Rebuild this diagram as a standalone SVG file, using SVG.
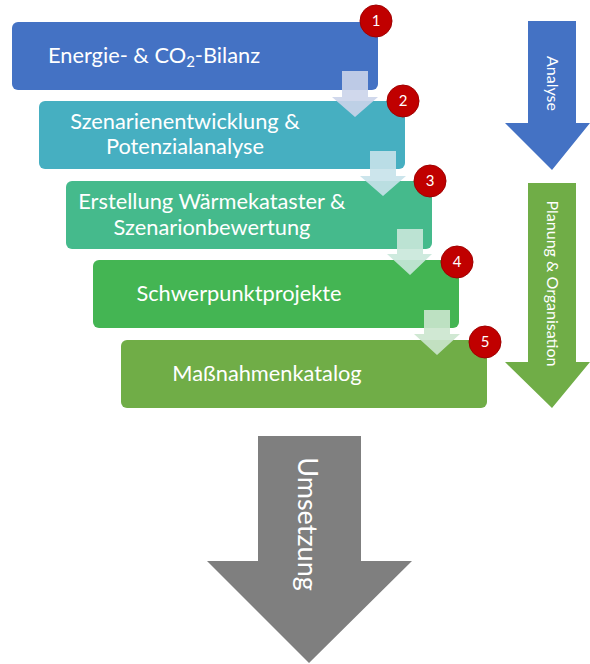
<svg xmlns="http://www.w3.org/2000/svg" width="590" height="664" viewBox="0 0 590 664">
<style>
.box{stroke:none}
.lbl{font-family:Lato,"Carlito","Liberation Sans",sans-serif;font-size:21.8px;fill:#ffffff;text-anchor:middle}
.side{font-family:Lato,"Carlito","Liberation Sans",sans-serif;font-size:16px;fill:#ffffff;text-anchor:middle}
.badge{fill:#C00000;stroke:#A00000;stroke-width:1}
.num{font-family:Lato,"Carlito","Liberation Sans",sans-serif;font-size:15px;fill:#ffffff;text-anchor:middle}
.step{opacity:0.9}
</style>
<rect width="590" height="664" fill="#ffffff"/>
<g id="box1"><rect class="box" x="12" y="22" width="366" height="68" rx="6" fill="#4472C4"/>
<text class="lbl" x="154" y="63">Energie- &amp; CO<tspan font-size="15" dy="4">2</tspan><tspan dy="-4">-Bilanz</tspan></text></g>
<g id="box2"><rect class="box" x="39" y="101" width="366" height="68" rx="6" fill="#46AFC1"/>
<text class="lbl" x="185" y="129">Szenarienentwicklung &amp;</text>
<text class="lbl" x="185" y="154">Potenzialanalyse</text></g>
<g id="box3"><rect class="box" x="66" y="181" width="366" height="68" rx="6" fill="#45BA8C"/>
<text class="lbl" x="212" y="209">Erstellung Wärmekataster &amp;</text>
<text class="lbl" x="212" y="235">Szenarionbewertung</text></g>
<g id="box4"><rect class="box" x="93" y="260" width="366" height="68" rx="6" fill="#44B553"/>
<text class="lbl" x="239" y="301">Schwerpunktprojekte</text></g>
<g id="box5"><rect class="box" x="121" y="340" width="366" height="68" rx="6" fill="#70AD47"/>
<text class="lbl" x="267" y="381">Maßnahmenkatalog</text></g>
<g id="connectors">
<polygon class="step" fill="#CBD4EA" points="342,71 368,71 368,97 378,97 355,117 332,97 342,97"/>
<polygon class="step" fill="#C6E2EA" points="370,151 396,151 396,176 406,176 383,196 360,176 370,176"/>
<polygon class="step" fill="#C9E8DA" points="397,229 423,229 423,254 432,254 410,275 387,254 397,254"/>
<polygon class="step" fill="#CBE6CE" points="424,310 450,310 450,334 460,334 437,355 414,334 424,334"/>
</g>
<g id="badge1"><circle class="badge" cx="376" cy="21" r="16"/><text class="num" x="376" y="26">1</text></g>
<g id="badge2"><circle class="badge" cx="403" cy="101" r="16"/><text class="num" x="403" y="106">2</text></g>
<g id="badge3"><circle class="badge" cx="430" cy="181" r="16"/><text class="num" x="430" y="186">3</text></g>
<g id="badge4"><circle class="badge" cx="457" cy="262" r="16"/><text class="num" x="457" y="267">4</text></g>
<g id="badge5"><circle class="badge" cx="485" cy="342" r="16"/><text class="num" x="485" y="347">5</text></g>
<g id="analyse"><polygon fill="#4472C4" points="528,21 576,21 576,123 590,123 552,170 505,123 528,123"/>
<text class="side" transform="translate(547,83.5) rotate(90)">Analyse</text></g>
<g id="planung"><polygon fill="#70AD47" points="528,183 576,183 576,362 590,362 552,408 505,362 528,362"/>
<text class="side" transform="translate(547,283.5) rotate(90)">Planung &amp; Organisation</text></g>
<g id="umsetzung"><polygon fill="#7F7F7F" points="258,436 361,436 361,561 412,561 309,663 207,561 258,561"/>
<text transform="translate(298,524) rotate(90)" font-family="Lato,Carlito,'Liberation Sans',sans-serif" font-size="27" fill="#ffffff" text-anchor="middle">Umsetzung</text></g>
</svg>
